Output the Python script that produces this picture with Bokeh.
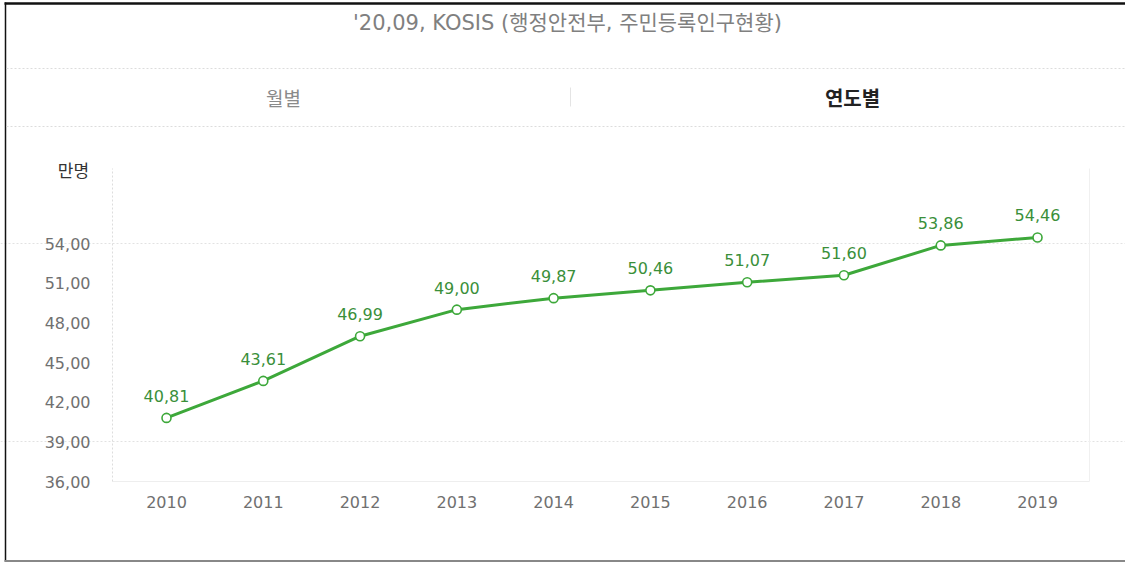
from bokeh.plotting import figure
from bokeh.models import ColumnDataSource, Range1d, FixedTicker, LabelSet, Label, Arrow
from bokeh.core.properties import value
from bokeh.embed import file_html
from bokeh.resources import INLINE

# ---- data ----
years = [2010, 2011, 2012, 2013, 2014, 2015, 2016, 2017, 2018, 2019]
population = [40.81, 43.61, 46.99, 49.00, 49.87, 50.46, 51.07, 51.60, 53.86, 54.46]
value_labels = [f"{v:.2f}".replace(".", ",") for v in population]
y_ticks = [36, 39, 42, 45, 48, 51, 54]
y_tick_labels = ["36,00", "39,00", "42,00", "45,00", "48,00", "51,00", "54,00"]
grid_values = [39, 54]
title_text = "'20,09, KOSIS (행정안전부, 주민등록인구현황)"
tab_labels = ["월별", "연도별"]
unit_label = "만명"

GREEN = "#3da83a"
GREEN_TEXT = "#3a8f3a"
LATIN = "DejaVu Sans"
KOREAN = "Noto Sans CJK KR"
MIXED = "DejaVu Sans, Noto Sans CJK KR"

W, H = 1125, 562
# plot area on the page (px): left, right, top, bottom
PL, PR, PT, PB = 112, 1089, 168, 481
X_FIRST_PX, X_STEP_PX = 166, 96.78        # px position of first year, px per year
Y_BASE, Y_PX_PER_UNIT = 36, 13.22         # value at plot bottom, px per unit

x0 = years[0] - X_FIRST_PX / X_STEP_PX
x1 = years[0] + (W - X_FIRST_PX) / X_STEP_PX
y0 = Y_BASE - (H - PB) / Y_PX_PER_UNIT
y1 = Y_BASE + PB / Y_PX_PER_UNIT
plot_x0 = years[0] - (X_FIRST_PX - PL) / X_STEP_PX
plot_x1 = years[0] + (PR - X_FIRST_PX) / X_STEP_PX
plot_y1 = Y_BASE + (PB - PT) / Y_PX_PER_UNIT

p = figure(width=W, height=H, output_backend="svg", toolbar_location=None,
           x_range=Range1d(x0, x1), y_range=Range1d(y0, y1),
           min_border=0)
p.min_border_left = p.min_border_right = p.min_border_top = p.min_border_bottom = 0
p.outline_line_color = None
p.background_fill_color = "white"
p.border_fill_color = "white"

# grid
p.xgrid.visible = False
p.ygrid.ticker = FixedTicker(ticks=grid_values)
p.ygrid.grid_line_color = "#e2e2e2"
p.ygrid.grid_line_dash = "2 2"
p.ygrid.bounds = (plot_x0, plot_x1)

# x axis (drawn at the plot bottom)
p.xaxis.fixed_location = Y_BASE
p.xaxis.bounds = (plot_x0, plot_x1)
p.xaxis.ticker = FixedTicker(ticks=years)
p.xaxis.major_tick_line_color = None
p.xaxis.minor_tick_line_color = None
p.xaxis.axis_line_color = "#eeeeee"
p.xaxis.major_label_standoff = 8
p.xaxis.major_label_text_font = LATIN
p.xaxis.major_label_text_font_size = "16px"
p.xaxis.major_label_text_color = "#707070"

# y axis (drawn at the plot left edge)
p.yaxis.fixed_location = plot_x0
p.yaxis.bounds = (Y_BASE, plot_y1)
p.yaxis.ticker = FixedTicker(ticks=y_ticks)
p.yaxis.major_label_overrides = {t: s for t, s in zip(y_ticks, y_tick_labels)}
p.yaxis.major_tick_line_color = None
p.yaxis.minor_tick_line_color = None
p.yaxis.axis_line_color = "#dddddd"
p.yaxis.axis_line_dash = "2 2"
p.yaxis.major_label_standoff = 16
p.yaxis.major_label_text_font = LATIN
p.yaxis.major_label_text_font_size = "16px"
p.yaxis.major_label_text_color = "#707070"

# series
src = ColumnDataSource(dict(year=years, pop=population, label=value_labels))
p.line("year", "pop", source=src, line_color=GREEN, line_width=3)
p.scatter("year", "pop", source=src, marker="circle", size=9,
          fill_color="white", line_color=GREEN, line_width=1.6)
p.add_layout(LabelSet(x="year", y="pop", text="label", source=src, y_offset=22,
                      text_align="center", text_baseline="middle",
                      text_color=GREEN_TEXT, text_font=value(LATIN), text_font_size="16px"))


# ---- page decorations (page px; the frame covers the whole canvas) ----
def fy(y):
    return H - y


def hline(xa, xb, y, color, width=1, dash="solid"):
    p.add_layout(Arrow(start=None, end=None, x_start=xa, x_end=xb,
                       y_start=fy(y), y_end=fy(y), start_units="screen", end_units="screen",
                       line_color=color, line_width=width, line_dash=dash))


def vline(x, ya, yb, color, width=1, dash="solid"):
    p.add_layout(Arrow(start=None, end=None, x_start=x, x_end=x,
                       y_start=fy(ya), y_end=fy(yb), start_units="screen", end_units="screen",
                       line_color=color, line_width=width, line_dash=dash))


def text(x, y, s, size, color, font, style="normal", align="center"):
    p.add_layout(Label(x=x, y=fy(y), x_units="screen", y_units="screen", text=s,
                       text_align=align, text_baseline="middle", text_font=font,
                       text_font_size=size, text_color=color, text_font_style=style))


# outer border of the captured page
hline(4, W, 3, "#111111", 2.5)
vline(5, 2, 561, "#111111", 1.5)
hline(4, W, 560.5, "#888888", 2)

# header separators
hline(6, W, 68, "#dcdcdc", 1, "2 2")
hline(6, W, 126, "#dcdcdc", 1, "2 2")
vline(570, 87, 106, "#e4e4e4", 1)

# plot right edge
vline(PR, PT, PB, "#f0f0f0", 1)

text(567, 22, title_text, "21px", "#808080", MIXED)
text(283, 97, tab_labels[0], "19px", "#8a8a8a", KOREAN)
text(852, 97, tab_labels[1], "20px", "#222222", KOREAN, style="bold")
text(73, 169, unit_label, "17px", "#333333", KOREAN)

open("out.html", "w").write(file_html(p, INLINE))
